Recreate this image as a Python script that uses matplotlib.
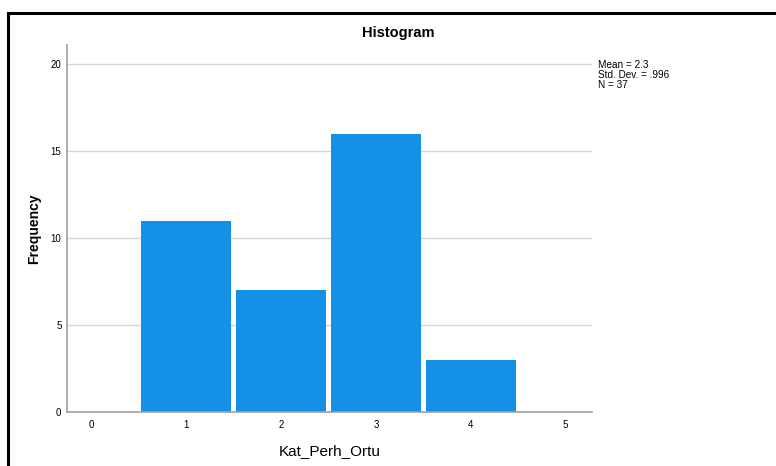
import matplotlib
matplotlib.use('Agg')
import matplotlib.pyplot as plt
from matplotlib.lines import Line2D

plt.rcParams['font.family'] = ['Liberation Sans', 'DejaVu Sans']

# category values and their frequencies
categories = [1, 2, 3, 4]
counts = [11, 7, 16, 3]
xticks = [0, 1, 2, 3, 4, 5]
yticks = [0, 5, 10, 15, 20]
stats_text = 'Mean = 2.3\nStd. Dev. = .996\nN = 37'

fig = plt.figure(figsize=(7.76, 4.66), dpi=100)
ax = fig.add_axes([67 / 776, 54 / 466, 525 / 776, 367 / 466])

ax.bar(categories, counts, width=0.95, color='#1490e6', linewidth=0, zorder=2)

ax.set_xlim(-0.26, 5.28)
ax.set_ylim(0, 21.1)
ax.set_xticks(xticks)
ax.set_yticks(yticks)
ax.tick_params(length=0, labelsize=7, pad=6)
ax.tick_params(axis='y', pad=4)
ax.yaxis.grid(True, color='#d6d6d6', linewidth=1.0, zorder=0)
ax.set_axisbelow(True)
for s in ['top', 'right']:
    ax.spines[s].set_visible(False)
for s in ['left', 'bottom']:
    ax.spines[s].set_color('#a0a0a0')
    ax.spines[s].set_linewidth(1.2)
    ax.spines[s].set_zorder(4)

fig.text(398 / 776, 1 - 33 / 466, 'Histogram', fontsize=10.5, fontweight='bold', ha='center', va='center')
ax.set_ylabel('Frequency', fontsize=10, fontweight='bold', labelpad=7)
ax.set_xlabel('Kat_Perh_Ortu', fontsize=11, labelpad=10)

fig.text(598 / 776, 1 - 60 / 466, stats_text, fontsize=7.2, va='top', ha='left', linespacing=1.0)

# outer frame (left and top lines only)
fig.add_artist(Line2D([8 / 776, 8 / 776], [0, 1 - 13 / 466], color='black', linewidth=2.2))
fig.add_artist(Line2D([8 / 776, 1], [1 - 13 / 466, 1 - 13 / 466], color='black', linewidth=2.2))

fig.savefig('out.png', dpi=100)
